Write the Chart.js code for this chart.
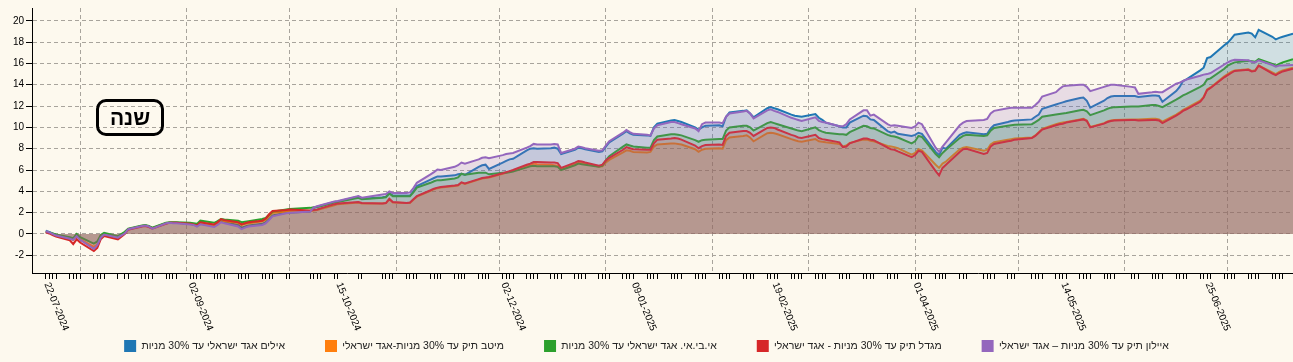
<!DOCTYPE html>
<html lang="he">
<head>
<meta charset="utf-8">
<title>שנה</title>
<script src="https://cdn.jsdelivr.net/npm/chart.js@4.4.1/dist/chart.umd.min.js"></script>
<style>
  html, body { margin: 0; padding: 0; background: #fdf9ee; }
  #wrap { position: relative; width: 1293px; height: 362px; }
  #period {
    position: absolute; left: 96px; top: 99px; width: 62px; height: 31px;
    border: 3px solid #000; border-radius: 10px;
    font: bold 21px "Liberation Sans", Arial, sans-serif;
    text-align: center; line-height: 31px; direction: rtl;
  }
</style>
</head>
<body>
<div id="wrap">
  <canvas id="myChart" width="1293" height="362"></canvas>
  <div id="period">שנה</div>
</div>
<script>
// trading days: Mon-Thu between these dates, minus days the exchange was closed
const firstDay = '2024-07-22';
const lastWeekday = '2025-07-17';
const extraDays = ['2025-07-20'];
const closedDays = ['2024-08-13', '2024-10-02', '2024-10-03', '2024-10-16', '2024-10-17',
  '2024-10-23', '2024-10-24', '2025-04-17', '2025-05-01', '2025-06-02'];
const axisStart = '2024-07-18';

// tick labels shown under the axis
const tickLabels = ['22-07-2024', '02-09-2024', '15-10-2024', '02-12-2024', '09-01-2025',
  '19-02-2025', '01-04-2025', '14-05-2025', '25-06-2025'];
const yTicks = [-2, 0, 2, 4, 6, 8, 10, 12, 14, 16, 18, 20];

const seriesNames = [
  'אילים אגד ישראלי עד 30% מניות',
  'מיטב תיק עד 30% מניות-אגד ישראלי',
  'אי.בי.אי. אגד ישראלי עד 30% מניות',
  'מגדל תיק עד 30% מניות - אגד ישראלי',
  'איילון תיק עד 30% מניות – אגד ישראלי'
];
const seriesColors = ['#1f77b4', '#ff7f0e', '#2ca02c', '#d62728', '#9467bd'];

// cumulative return, %
const blueValues = [
  0.3, 0.2, 0.05, -0.1, -0.4, -0.5, -0.1, -0.5, -1.3, -1.0, -0.3, 0.0, -0.3, 0.1, 0.45,
  0.75, 0.8, 0.7, 0.55, 1.0, 1.05, 1.05, 1.05, 0.95, 0.9, 0.75, 0.95, 0.75, 0.95, 1.2, 1.1,
  0.85, 0.6, 0.7, 0.8, 0.95, 1.1, 1.4, 1.75, 2.0, 2.0,
  2.1, 2.45, 2.55, 2.65, 3.0, 3.05, 3.5, 3.3, 3.45, 3.5, 3.85, 3.6, 3.6, 3.6, 4.0, 4.5,
  5.1, 5.25, 5.4, 5.4, 5.5, 5.6, 5.65, 5.55, 6.3, 6.45, 6.5, 6.1,
  6.7, 6.85, 7.0, 7.05, 7.85, 8.0, 8.05, 8.0, 8.05, 8.1, 8.0, 7.5, 7.9, 8.1, 8.05, 7.95,
  7.7, 7.75, 8.2, 8.6, 9.4, 9.65, 9.45, 9.3, 9.25, 9.2, 10.0, 10.35, 10.65, 10.7, 10.6, 10.5,
  10.0, 9.8, 10.0, 10.15,
  10.2, 10.1, 11.0, 11.4, 11.55, 11.6, 11.3, 10.95, 11.8, 11.9, 11.8, 11.7, 11.2, 11.1, 11.05, 11.0,
  11.25, 10.9, 10.7, 10.45, 10.1, 10.0, 10.0, 10.45, 11.1, 11.05, 10.75, 10.7, 9.65, 9.5, 9.6, 9.4,
  9.2, 9.3, 9.5, 9.4, 7.7, 7.4, 8.1, 8.0, 9.3, 9.45, 9.55, 9.35, 9.4, 9.9, 10.2, 10.5, 10.6, 10.65,
  10.75, 11.0, 11.2, 11.75, 12.15, 12.25, 12.35, 12.45, 12.75, 12.8, 12.5, 11.85, 12.5, 12.75, 12.9, 12.95,
  12.95, 12.95, 12.85, 13.0, 13.0, 12.95, 12.4, 13.4, 13.8, 14.35, 14.5, 15.35, 15.6, 16.5, 16.6,
  17.7, 17.95, 18.3, 18.7, 18.9, 18.8, 18.45, 19.15, 18.5, 18.25, 18.4, 18.5, 18.8
];
const orangeValues = [
  0.2, 0.1, 0.0, -0.15, -0.45, -0.55, -0.2, -0.5, -1.2, -1.0, -0.3, 0.0, -0.3, 0.1, 0.45,
  0.75, 0.8, 0.7, 0.55, 1.0, 1.05, 1.05, 1.05, 0.95, 0.9, 0.75, 1.0, 0.75, 0.95, 1.3, 1.2,
  1.05, 0.85, 0.95, 1.0, 1.2, 1.35, 1.7, 2.0, 2.1, 2.15,
  2.15, 2.2, 2.25, 2.35, 2.7, 2.8, 2.95, 2.85, 2.85, 2.9, 3.25, 2.95, 2.9, 2.9, 3.2, 3.5,
  4.05, 4.2, 4.3, 4.35, 4.5, 4.55, 4.8, 4.7, 5.1, 5.2, 5.25, 5.3,
  5.65, 5.75, 5.85, 5.95, 6.4, 6.5, 6.6, 6.55, 6.5, 6.45, 6.4, 6.1, 6.55, 6.7, 6.65, 6.6,
  6.3, 6.35, 6.7, 6.95, 7.65, 7.85, 7.8, 7.7, 7.65, 7.7, 8.2, 8.4, 8.5, 8.5, 8.45, 8.4,
  7.95, 7.7, 7.9, 8.0,
  8.05, 8.0, 8.8, 9.05, 9.2, 9.25, 9.05, 8.7, 9.45, 9.5, 9.45, 9.35, 8.9, 8.8, 8.7, 8.65,
  8.9, 8.7, 8.65, 8.6, 8.45, 8.2, 8.3, 8.55, 8.85, 8.85, 8.75, 8.7, 8.25, 8.2, 8.15, 8.05,
  7.45, 7.6, 7.95, 7.85, 6.5, 6.2, 6.6, 6.8, 7.95, 8.1, 8.15, 7.8, 7.9, 8.4, 8.6, 8.85, 8.9, 8.95,
  9.05, 9.25, 9.55, 9.85, 10.3, 10.4, 10.45, 10.5, 10.75, 10.8, 10.65, 10.05, 10.4, 10.55, 10.65, 10.7,
  10.75, 10.75, 10.75, 10.8, 10.8, 10.75, 10.55, 11.2, 11.4, 11.65, 11.8, 12.5, 12.85, 13.55, 13.75,
  14.8, 15.0, 15.2, 15.35, 15.45, 15.3, 15.35, 15.8, 15.15, 15.0, 15.2, 15.35, 15.6
];
const greenValues = [
  0.2, 0.15, 0.05, -0.05, -0.3, -0.4, 0.0, -0.3, -0.9, -0.7, -0.1, 0.1, -0.2, 0.2, 0.5,
  0.8, 0.85, 0.75, 0.6, 1.05, 1.1, 1.1, 1.1, 1.05, 1.0, 0.95, 1.25, 1.05, 1.2, 1.4, 1.35,
  1.25, 1.1, 1.15, 1.2, 1.4, 1.5, 1.8, 2.1, 2.3, 2.35,
  2.45, 2.5, 2.55, 2.6, 2.95, 3.0, 3.4, 3.25, 3.4, 3.45, 3.8, 3.55, 3.55, 3.55, 3.9, 4.35,
  4.8, 4.95, 5.05, 5.05, 5.2, 5.3, 5.65, 5.55, 5.75, 5.75, 5.75, 5.6,
  5.75, 5.75, 5.8, 5.85, 6.25, 6.35, 6.4, 6.35, 6.35, 6.35, 6.3, 6.0, 6.45, 6.6, 6.55, 6.5,
  6.3, 6.4, 6.9, 7.3, 8.2, 8.4, 8.3, 8.2, 8.1, 8.1, 8.8, 9.15, 9.35, 9.35, 9.3, 9.25,
  8.8, 8.65, 8.8, 8.85,
  8.9, 8.9, 9.7, 10.0, 10.15, 10.15, 10.0, 9.7, 10.4, 10.5, 10.4, 10.3, 9.9, 9.8, 9.7, 9.65,
  10.0, 9.75, 9.6, 9.5, 9.35, 9.35, 9.3, 9.55, 10.15, 10.1, 9.95, 9.9, 9.3, 9.2, 9.15, 9.05,
  8.5, 8.7, 9.2, 9.1, 7.5, 7.2, 7.6, 7.9, 9.0, 9.2, 9.3, 9.2, 9.25, 9.7, 9.95, 10.15, 10.2, 10.25,
  10.3, 10.5, 10.7, 11.0, 11.2, 11.25, 11.3, 11.35, 11.6, 11.65, 11.5, 11.15, 11.6, 11.75, 11.85, 11.9,
  11.95, 11.95, 11.95, 12.1, 12.1, 12.0, 11.9, 12.6, 12.8, 13.0, 13.15, 13.8, 14.0, 14.5, 14.6,
  15.5, 15.8, 15.95, 16.1, 16.25, 16.2, 16.15, 16.4, 15.95, 15.8, 15.95, 16.1, 16.4
];
const redValues = [
  0.15, 0.05, -0.1, -0.25, -0.6, -0.95, -0.5, -0.8, -1.6, -1.3, -0.5, -0.2, -0.5, 0.0, 0.4,
  0.7, 0.75, 0.65, 0.5, 0.95, 1.05, 1.05, 1.05, 0.95, 0.9, 0.8, 1.1, 0.9, 1.1, 1.4, 1.3,
  1.1, 0.9, 1.0, 1.1, 1.25, 1.45, 1.85, 2.15, 2.25, 2.3,
  2.2, 2.25, 2.3, 2.4, 2.8, 2.85, 3.0, 2.9, 2.85, 2.9, 3.3, 3.0, 2.9, 2.95, 3.25, 3.55,
  4.1, 4.25, 4.35, 4.4, 4.55, 4.6, 4.85, 4.75, 5.15, 5.25, 5.3, 5.35,
  5.7, 5.8, 5.9, 6.0, 6.5, 6.6, 6.75, 6.75, 6.7, 6.7, 6.65, 6.2, 6.7, 6.85, 6.8, 6.7,
  6.4, 6.5, 6.9, 7.15, 7.9, 8.15, 8.05, 7.95, 7.9, 7.9, 8.5, 8.85, 8.95, 9.0, 8.95, 8.85,
  8.3, 8.05, 8.25, 8.35,
  8.4, 8.35, 9.2, 9.5, 9.65, 9.65, 9.5, 9.2, 9.95, 10.0, 9.95, 9.8, 9.3, 9.2, 9.05, 9.0,
  9.3, 9.0, 8.9, 8.85, 8.6, 8.15, 8.2, 8.5, 8.95, 8.95, 8.85, 8.8, 8.1, 7.95, 7.9, 7.75,
  7.2, 7.4, 7.8, 7.7, 5.9, 5.5, 6.2, 6.5, 7.7, 7.95, 8.0, 7.5, 7.6, 8.2, 8.45, 8.7, 8.75, 8.85,
  9.0, 9.2, 9.5, 9.8, 10.2, 10.3, 10.35, 10.45, 10.7, 10.75, 10.6, 10.0, 10.35, 10.5, 10.6, 10.65,
  10.7, 10.7, 10.65, 10.7, 10.7, 10.65, 10.4, 11.1, 11.3, 11.55, 11.7, 12.4, 12.8, 13.5, 13.7,
  14.7, 14.9, 15.1, 15.3, 15.4, 15.25, 15.3, 15.8, 15.05, 14.9, 15.1, 15.25, 15.5
];
const purpleValues = [
  0.25, 0.15, 0.0, -0.15, -0.45, -0.55, -0.2, -0.55, -1.4, -1.05, -0.35, -0.05, -0.35, 0.05, 0.45,
  0.75, 0.8, 0.7, 0.5, 1.0, 1.05, 1.0, 1.0, 0.9, 0.85, 0.7, 0.9, 0.65, 0.85, 1.1, 1.0,
  0.7, 0.45, 0.6, 0.7, 0.85, 1.0, 1.3, 1.65, 1.95, 2.0,
  2.1, 2.5, 2.6, 2.7, 3.05, 3.1, 3.55, 3.4, 3.7, 3.75, 4.0, 3.85, 3.85, 3.9, 4.3, 4.8,
  5.6, 5.8, 6.05, 6.0, 6.3, 6.45, 6.7, 6.6, 7.0, 7.15, 7.2, 7.1,
  7.4, 7.5, 7.55, 7.6, 8.1, 8.25, 8.45, 8.4, 8.4, 8.45, 8.4, 7.6, 8.0, 8.2, 8.15, 8.05,
  7.8, 7.85, 8.3, 8.7, 9.5, 9.75, 9.55, 9.4, 9.3, 9.25, 9.9, 10.2, 10.5, 10.5, 10.4, 10.3,
  9.9, 9.65, 10.3, 10.45,
  10.45, 10.4, 11.0, 11.3, 11.5, 11.55, 11.3, 10.85, 11.6, 11.7, 11.55, 11.45, 10.9, 10.8, 10.7, 10.6,
  10.95, 10.6, 10.5, 10.45, 10.1, 10.1, 10.3, 10.75, 11.6, 11.6, 11.1, 11.2, 10.3, 10.15, 10.2, 10.15,
  9.95, 10.1, 10.45, 10.3, 8.1, 7.7, 8.2, 8.6, 10.2, 10.45, 10.6, 10.7, 10.8, 11.3, 11.55, 11.8, 11.85, 11.85,
  11.85, 12.1, 12.4, 12.9, 13.3, 13.6, 13.85, 13.9, 14.0, 14.0, 13.8, 13.4, 13.8, 13.9, 14.0, 14.0,
  13.8, 13.75, 13.15, 13.3, 13.35, 13.3, 13.3, 14.1, 14.2, 14.35, 14.5, 14.85, 14.95, 15.0, 15.1,
  15.9, 16.1, 16.25, 16.35, 16.3, 16.15, 16.1, 16.3, 15.85, 15.7, 15.8, 15.8, 15.85
];
const seriesValues = [blueValues, orangeValues, greenValues, redValues, purpleValues];

const DAY = 86400000;
const dayNum = s => Date.UTC(+s.slice(0, 4), +s.slice(5, 7) - 1, +s.slice(8, 10)) / DAY;
const dmyToDay = s => Date.UTC(+s.slice(6, 10), +s.slice(3, 5) - 1, +s.slice(0, 2)) / DAY;

const closedSet = new Set(closedDays.map(dayNum));
const xDays = [];
for (let d = dayNum(firstDay); d <= dayNum(lastWeekday); d++) {
  const wd = new Date(d * DAY).getUTCDay();
  if (wd >= 1 && wd <= 4 && !closedSet.has(d)) xDays.push(d);
}
extraDays.forEach(s => xDays.push(dayNum(s)));

// first day of every month, for the vertical grid
const monthStarts = [];
for (let m = 7; m <= 18; m++) monthStarts.push(Date.UTC(2024, m, 1) / DAY);

function hexToRgba(hex, a) {
  const n = parseInt(hex.slice(1), 16);
  return `rgba(${(n >> 16) & 255},${(n >> 8) & 255},${n & 255},${a})`;
}

const datasets = seriesNames.map((name, i) => ({
  label: name,
  data: seriesValues[i].map((v, j) => ({ x: xDays[j], y: v })),
  borderColor: seriesColors[i],
  backgroundColor: hexToRgba(seriesColors[i], 0.2),
  borderWidth: 2,
  pointRadius: 0,
  tension: 0,
  fill: 'origin',
  order: seriesNames.length - i
}));

const axisFont = { family: '"Liberation Sans", Arial, sans-serif', size: 10 };

// rotated date labels (clockwise, starting at the tick)
const dateLabels = {
  id: 'dateLabels',
  afterDraw(chart) {
    const xs = chart.scales.x;
    const c = chart.ctx;
    c.save();
    c.font = '10px "Liberation Sans", Arial, sans-serif';
    c.fillStyle = '#000';
    c.textAlign = 'left';
    c.textBaseline = 'middle';
    tickLabels.forEach(lbl => {
      const px = xs.getPixelForValue(dmyToDay(lbl));
      c.save();
      c.translate(px + 1, xs.top + 10);
      c.rotate(68 * Math.PI / 180);
      c.fillText(lbl, 0, 0);
      c.restore();
    });
    c.restore();
  }
};

const ctx = document.getElementById('myChart').getContext('2d');
const myChart = new Chart(ctx, {
  type: 'line',
  data: { datasets: datasets },
  plugins: [dateLabels],
  options: {
    responsive: false,
    animation: false,
    layout: { padding: { top: 7, right: 0, left: 0, bottom: 0 } },
    scales: {
      x: {
        type: 'linear',
        min: dayNum(axisStart),
        max: xDays[xDays.length - 1],
        afterBuildTicks: s => {
          s.ticks = xDays.map(v => ({ value: v }))
            .concat(monthStarts.map(v => ({ value: v, month: true })));
        },
        ticks: { display: false, autoSkip: false },
        grid: {
          drawOnChartArea: true,
          drawTicks: true,
          tickLength: 6,
          color: c => (c.tick && c.tick.month) ? '#a8a49c' : 'rgba(0,0,0,0)',
          tickColor: c => (c.tick && c.tick.month) ? 'rgba(0,0,0,0)' : '#000',
          tickBorderDash: []
        },
        border: { color: '#000', width: 1, dash: [4, 3] },
        afterFit: s => { s.height = 27; }
      },
      y: {
        min: -3.66,
        max: 21.2,
        afterBuildTicks: s => { s.ticks = yTicks.map(v => ({ value: v })); },
        ticks: { color: '#000', font: axisFont, padding: 2, autoSkip: false },
        grid: { color: '#a8a49c', tickColor: '#000', tickLength: 6, tickBorderDash: [] },
        border: { color: '#000', width: 1, dash: [4, 3] },
        afterFit: s => { s.width = 32; }
      }
    },
    plugins: {
      tooltip: { enabled: false },
      legend: {
        position: 'bottom',
        labels: {
          boxWidth: 12,
          boxHeight: 12,
          padding: 40,
          color: '#222',
          font: { family: '"Liberation Sans", Arial, sans-serif', size: 10.5 },
          sort: (a, b) => a.datasetIndex - b.datasetIndex,
          generateLabels: chart => Chart.defaults.plugins.legend.labels.generateLabels(chart)
            .map(item => Object.assign(item, {
              fillStyle: seriesColors[item.datasetIndex],
              strokeStyle: seriesColors[item.datasetIndex],
              lineWidth: 0
            }))
        }
      }
    }
  }
});
</script>
</body>
</html>
